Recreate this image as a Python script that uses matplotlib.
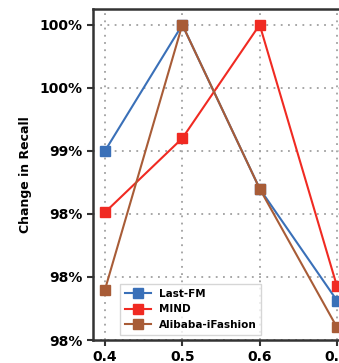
import matplotlib.pyplot as plt

# ratio values per dataset (relative recall)
ratios = [0.4, 0.5, 0.6, 0.7]
lastfm = [0.9920, 1.0000, 0.9896, 0.9825]
mind = [0.9881, 0.9928, 1.0000, 0.9834]
alibaba = [0.9832, 1.0000, 0.9896, 0.9808]

ytick_vals = [0.980, 0.984, 0.988, 0.992, 0.996, 1.000]
ytick_labels = ["98%", "98%", "98%", "99%", "100%", "100%"]

fig = plt.figure(figsize=(3.39, 3.63), dpi=100)
# axes run past the right edge of the figure
ax = fig.add_axes([93 / 339, 23 / 363, 256 / 339, 331 / 363])

ax.plot(ratios, lastfm, "-s", color="#3a70b8", lw=1.5, ms=7, label="Last-FM", clip_on=False, zorder=3)
ax.plot(ratios, mind, "-s", color="#f02a22", lw=1.5, ms=7, label="MIND", clip_on=False, zorder=3)
ax.plot(ratios, alibaba, "-s", color="#a85c37", lw=1.5, ms=7, label="Alibaba-iFashion", clip_on=False, zorder=3)

ax.set_xlim(0.3845, 0.7155)
ax.set_ylim(0.980, 1.001)
ax.set_xticks(ratios)
ax.set_xticklabels(["0.4", "0.5", "0.6", "0.7"], fontsize=10, fontweight="bold")
ax.set_yticks(ytick_vals)
ax.set_yticklabels(ytick_labels, fontsize=10, fontweight="bold")
ax.set_ylabel("Change in Recall", fontsize=9, fontweight="bold")
ax.yaxis.set_label_coords(-0.24, 0.5)

ax.grid(True, linestyle=(0, (1, 3)), color="#a0a0a0", lw=1.3)
ax.tick_params(direction="out", length=4, width=1.5, color="#333333")
for s in ax.spines.values():
    s.set_linewidth(1.8)
    s.set_color("#333333")

ax.legend(loc="lower left", bbox_to_anchor=(0.085, 0.0), prop={"size": 7.5, "weight": "bold"},
          handlelength=2.5, borderpad=0.45, labelspacing=0.55, fancybox=False,
          framealpha=0.8, edgecolor="#cccccc")

fig.savefig("out.png", dpi=100)
